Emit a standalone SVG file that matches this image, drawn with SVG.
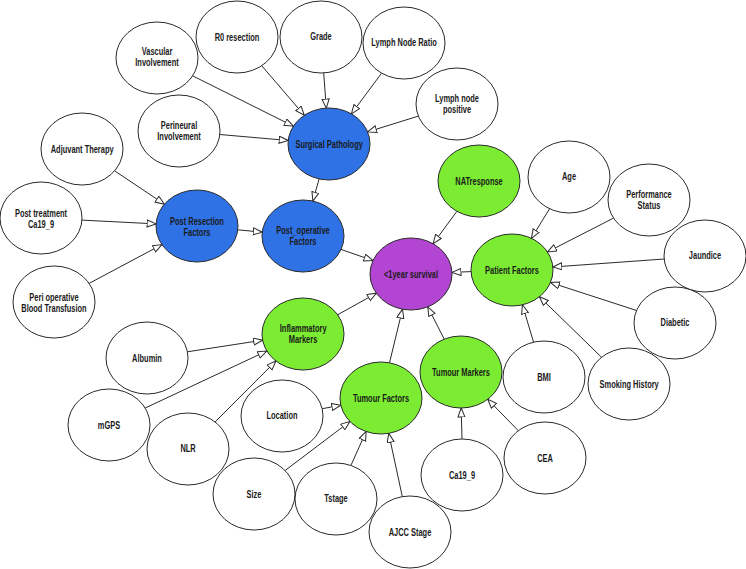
<svg xmlns="http://www.w3.org/2000/svg" width="746" height="569" viewBox="0 0 746 569">
<style>
  .n ellipse { stroke: #2a2a2a; stroke-width: 1; }
  .w ellipse { fill: #ffffff; }
  .b ellipse { fill: #2f72e6; }
  .g ellipse { fill: #7bec32; }
  .p ellipse { fill: #b246d2; }
  .n text { font-family: "Liberation Sans", Arial, sans-serif; font-size: 10.5px; font-weight: bold; fill: #1a1a1a; text-anchor: middle; transform-box: fill-box; transform-origin: center; transform: scaleX(0.71); }
  .c line { stroke: #2a2a2a; stroke-width: 1; marker-end: url(#arr); }
</style>
<defs>
  <marker id="arr" markerUnits="userSpaceOnUse" markerWidth="11" markerHeight="9" refX="9.5" refY="4" orient="auto">
    <path d="M0.5,0.5 L9.5,4 L0.5,7.5 z" fill="#fff" stroke="#2a2a2a" stroke-width="1"/>
  </marker>
</defs>
<rect width="746" height="569" fill="#fff"/>
<g id="connectors" class="c">
  <line x1="192.6" y1="75.8" x2="293.4" y2="126.2"/>
  <line x1="261.7" y1="65.7" x2="304.3" y2="115.3"/>
  <line x1="323.7" y1="72.9" x2="326.3" y2="108.1"/>
  <line x1="381.6" y1="73.2" x2="351.4" y2="113.8"/>
  <line x1="418.4" y1="116.1" x2="367.6" y2="131.9"/>
  <line x1="219.8" y1="134.5" x2="288.2" y2="140.5"/>
  <line x1="319.1" y1="178.9" x2="312.9" y2="201.1"/>
  <line x1="114.6" y1="170.8" x2="164.4" y2="204.2"/>
  <line x1="81.9" y1="220.1" x2="156.1" y2="223.9"/>
  <line x1="89.1" y1="283.4" x2="161.9" y2="244.6"/>
  <line x1="237.7" y1="229.8" x2="262.3" y2="232.2"/>
  <line x1="341.0" y1="249.4" x2="373.0" y2="260.6"/>
  <line x1="456.9" y1="211.3" x2="433.1" y2="243.7"/>
  <line x1="471" y1="271.6" x2="452" y2="272.4"/>
  <line x1="337.6" y1="314.8" x2="376.4" y2="293.2"/>
  <line x1="389.5" y1="362.8" x2="402.5" y2="309.2"/>
  <line x1="444.2" y1="339.1" x2="427.8" y2="306.9"/>
  <line x1="549.6" y1="208.7" x2="531.4" y2="238.3"/>
  <line x1="613.5" y1="218.1" x2="547.5" y2="251.9"/>
  <line x1="664.2" y1="259.0" x2="552.8" y2="267.0"/>
  <line x1="636.6" y1="310.5" x2="550.4" y2="282.5"/>
  <line x1="533.6" y1="342.2" x2="522.4" y2="304.8"/>
  <line x1="601.6" y1="357.3" x2="539.4" y2="296.7"/>
  <line x1="187.4" y1="351.8" x2="262.6" y2="340.2"/>
  <line x1="145.2" y1="408.0" x2="266.8" y2="351.0"/>
  <line x1="215.1" y1="421.9" x2="275.9" y2="361.0"/>
  <line x1="322.2" y1="408.7" x2="340.8" y2="405.3"/>
  <line x1="285.1" y1="470.5" x2="349.9" y2="421.5"/>
  <line x1="350.9" y1="465.5" x2="366.1" y2="431.5"/>
  <line x1="402.3" y1="496.6" x2="388.7" y2="433.4"/>
  <line x1="462" y1="439" x2="461.2" y2="408"/>
  <line x1="518.3" y1="430.7" x2="487.7" y2="399.3"/>
</g>
<g id="vascular" class="n w"><ellipse cx="157" cy="58" rx="41" ry="36"/><text x="157" y="55">Vascular</text><text x="157" y="66.5">Involvement</text></g>
<g id="r0" class="n w"><ellipse cx="237" cy="37" rx="41" ry="36"/><text x="237" y="41">R0 resection</text></g>
<g id="grade" class="n w"><ellipse cx="321" cy="37" rx="41" ry="36"/><text x="321" y="40">Grade</text></g>
<g id="lnr" class="n w"><ellipse cx="404" cy="43" rx="41" ry="36"/><text x="404" y="46">Lymph Node Ratio</text></g>
<g id="lnp" class="n w"><ellipse cx="457" cy="104" rx="41" ry="36"/><text x="457" y="102">Lymph node</text><text x="457" y="113.5">positive</text></g>
<g id="perineural" class="n w"><ellipse cx="179" cy="131" rx="41" ry="36"/><text x="179" y="129">Perineural</text><text x="179" y="140.5">Involvement</text></g>
<g id="surgical" class="n b"><ellipse cx="329" cy="144" rx="41" ry="36"/><text x="329" y="148">Surgical Pathology</text></g>
<g id="adjuvant" class="n w"><ellipse cx="82" cy="149" rx="41" ry="36"/><text x="82" y="153">Adjuvant Therapy</text></g>
<g id="posttreat" class="n w"><ellipse cx="41" cy="218" rx="41" ry="36"/><text x="41" y="217">Post treatment</text><text x="41" y="228.5">Ca19_9</text></g>
<g id="perioperative" class="n w"><ellipse cx="54" cy="302" rx="41" ry="36"/><text x="54" y="301">Peri operative</text><text x="54" y="312.5">Blood Transfusion</text></g>
<g id="postresection" class="n b"><ellipse cx="197" cy="226" rx="41" ry="36"/><text x="197" y="225">Post Resection</text><text x="197" y="236.5">Factors</text></g>
<g id="postoperative" class="n b"><ellipse cx="303" cy="236" rx="41" ry="36"/><text x="303" y="234">Post_operative</text><text x="303" y="245.5">Factors</text></g>
<g id="natresponse" class="n g"><ellipse cx="479" cy="181" rx="41" ry="36"/><text x="479" y="185">NATresponse</text></g>
<g id="age" class="n w"><ellipse cx="569" cy="177" rx="41" ry="36"/><text x="569" y="180">Age</text></g>
<g id="performance" class="n w"><ellipse cx="649" cy="200" rx="41" ry="36"/><text x="649" y="198">Performance</text><text x="649" y="209.5">Status</text></g>
<g id="jaundice" class="n w"><ellipse cx="705" cy="256" rx="41" ry="36"/><text x="705" y="259">Jaundice</text></g>
<g id="diabetic" class="n w"><ellipse cx="675" cy="323" rx="41" ry="36"/><text x="675" y="326">Diabetic</text></g>
<g id="survival" class="n p"><ellipse cx="411" cy="274" rx="41" ry="36"/><text x="411" y="278">&lt;1year survival</text></g>
<g id="patient" class="n g"><ellipse cx="512" cy="270" rx="41" ry="36"/><text x="512" y="274">Patient Factors</text></g>
<g id="inflammatory" class="n g"><ellipse cx="303" cy="334" rx="41" ry="36"/><text x="303" y="332">Inflammatory</text><text x="303" y="343.5">Markers</text></g>
<g id="albumin" class="n w"><ellipse cx="147" cy="358" rx="41" ry="36"/><text x="147" y="362">Albumin</text></g>
<g id="mgps" class="n w"><ellipse cx="109" cy="425" rx="41" ry="36"/><text x="109" y="429">mGPS</text></g>
<g id="nlr" class="n w"><ellipse cx="188" cy="449" rx="41" ry="36"/><text x="188" y="452">NLR</text></g>
<g id="location" class="n w"><ellipse cx="282" cy="416" rx="41" ry="36"/><text x="282" y="419">Location</text></g>
<g id="tumourfactors" class="n g"><ellipse cx="381" cy="398" rx="41" ry="36"/><text x="381" y="402">Tumour Factors</text></g>
<g id="size" class="n w"><ellipse cx="254" cy="494" rx="41" ry="36"/><text x="254" y="498">Size</text></g>
<g id="tstage" class="n w"><ellipse cx="336" cy="499" rx="41" ry="36"/><text x="336" y="502">Tstage</text></g>
<g id="ajcc" class="n w"><ellipse cx="410" cy="532" rx="41" ry="36"/><text x="410" y="536">AJCC Stage</text></g>
<g id="tumourmarkers" class="n g"><ellipse cx="461" cy="372" rx="41" ry="36"/><text x="461" y="376">Tumour Markers</text></g>
<g id="bmi" class="n w"><ellipse cx="544" cy="377" rx="41" ry="36"/><text x="544" y="381">BMI</text></g>
<g id="smoking" class="n w"><ellipse cx="629" cy="384" rx="41" ry="36"/><text x="629" y="388">Smoking History</text></g>
<g id="ca199" class="n w"><ellipse cx="462" cy="475" rx="41" ry="36"/><text x="462" y="479">Ca19_9</text></g>
<g id="cea" class="n w"><ellipse cx="545" cy="458" rx="41" ry="36"/><text x="545" y="462">CEA</text></g>
</svg>
